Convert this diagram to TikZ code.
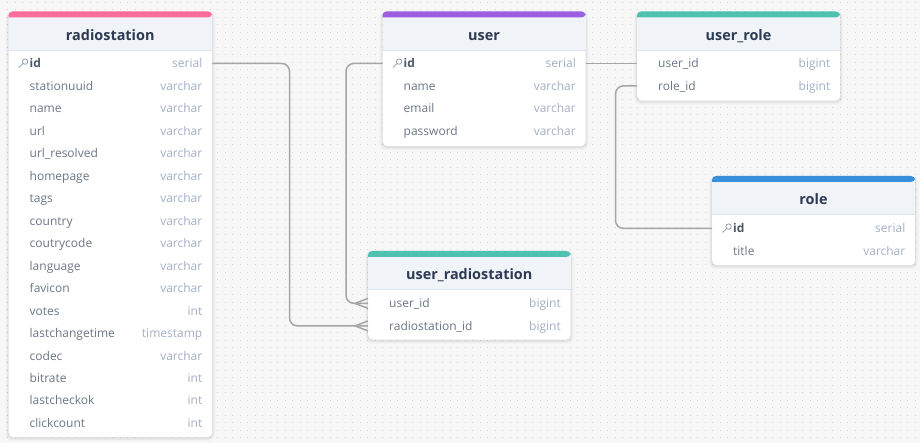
\documentclass[tikz,border=0pt]{standalone}
\usepackage{fontspec}
\setmainfont{Open Sans}
\definecolor{bgc}{HTML}{F7F7F7}
\definecolor{dotc}{HTML}{D6D6D6}
\definecolor{headc}{HTML}{F0F4F9}
\definecolor{headl}{HTML}{DDE7F1}
\definecolor{titlec}{HTML}{2D3A52}
\definecolor{fieldc}{HTML}{6C7686}
\definecolor{keyc}{HTML}{4A5568}
\definecolor{typec}{HTML}{A3AFC4}
\definecolor{linec}{HTML}{A6A6A6}
\definecolor{pinkc}{HTML}{FF6B9A}
\definecolor{purplec}{HTML}{9B5FE0}
\definecolor{tealc}{HTML}{4FC1B0}
\definecolor{bluec}{HTML}{3A8FDD}
\tikzset{
  x=1pt,y=-1pt,
  tablebody/.style={draw=none,fill=white,rounded corners=5pt,inner sep=0pt,anchor=north west},
  tabletitle/.style={font=\fontsize{14.4}{18}\selectfont\bfseries,text=titlec,inner sep=0pt,anchor=base},
  rowbox/.style={inner sep=0pt,minimum height=22.5pt,anchor=west},
  fieldname/.style={font=\fontsize{12}{15}\selectfont,text=fieldc,inner sep=0pt,anchor=base west},
  keyname/.style={font=\fontsize{12}{15}\selectfont\bfseries,text=keyc,inner sep=0pt,anchor=base west},
  fieldtype/.style={font=\fontsize{12}{15}\selectfont,text=typec,inner sep=0pt,anchor=base east},
  conn/.style={draw=linec,line width=1.5pt,rounded corners=8pt},
  crowf/.style={draw=linec,line width=1.5pt},
  keyicon/.style={draw=typec!70!fieldc,line width=.8pt},
}
% #1 name, #2 x, #3 top, #4 width, #5 height, #6 header bottom, #7 colour, #8 title
\newcommand{\dbtable}[8]{%
  \foreach \s/\o in {3/.02,2/.03,1/.04}{\fill[black,opacity=\o,rounded corners=6pt] (#2-\s,#3) rectangle (#2+#4+\s,#3+#5+1+\s);}
  \node[tablebody,minimum width=#4pt,minimum height=#5pt] (#1) at (#2,#3) {};
  \fill[headc] (#2,#3+5) rectangle (#2+#4,#3+#6);
  \draw[headl,line width=.8pt] (#2,#3+#6) -- (#2+#4,#3+#6);
  \fill[#7,rounded corners=4pt] (#2,#3+6) -- (#2,#3) -- (#2+#4,#3) -- (#2+#4,#3+6) [sharp corners] -- cycle;
  \node[tabletitle] (#1-title) at (#2+#4/2,#3+29) {#8};
}
% #1 name, #2 x, #3 centre y, #4 width, #5 field, #6 type
\newcommand{\dbrow}[6]{%
  \node[rowbox,minimum width=#4pt] (#1) at (#2,#3+.4) {};
  \node[fieldname] (#1-f) at (#2+21,#3+4.9) {#5};
  \node[fieldtype] (#1-t) at (#2+#4-9.5,#3+4.9) {#6};
}
\newcommand{\dbkeyrow}[6]{%
  \node[rowbox,minimum width=#4pt] (#1) at (#2,#3+.4) {};
  \node[keyname] (#1-f) at (#2+21,#3+4.9) {#5};
  \node[fieldtype] (#1-t) at (#2+#4-9.5,#3+4.9) {#6};
  \draw[keyicon] (#2+16.6,#3-1.4) circle (2.7pt);
  \draw[keyicon,line cap=round] (#2+14.7,#3+.5) -- (#2+10.6,#3+4.4);
}
\begin{document}
\begin{tikzpicture}
\useasboundingbox (0,0) rectangle (920,443);
\fill[bgc] (0,0) rectangle (920,443);
\foreach \i in {1,...,122}{\foreach \j in {0,...,58}{
  \fill[dotc] (7.5*\i-.5,2.5+7.5*\j-.5) rectangle +(1,1);
}}
% radiostation
\dbtable{radiostation}{8.5}{11.5}{203.5}{425.5}{38.5}{pinkc}{radiostation}
\dbkeyrow{rs-id}{8.5}{63}{203.5}{id}{serial}
\dbrow{rs-stationuuid}{8.5}{85.5}{203.5}{stationuuid}{varchar}
\dbrow{rs-name}{8.5}{108}{203.5}{name}{varchar}
\dbrow{rs-url}{8.5}{130.5}{203.5}{url}{varchar}
\dbrow{rs-urlr}{8.5}{153}{203.5}{url\_resolved}{varchar}
\dbrow{rs-homepage}{8.5}{175.5}{203.5}{homepage}{varchar}
\dbrow{rs-tags}{8.5}{198}{203.5}{tags}{varchar}
\dbrow{rs-country}{8.5}{220.5}{203.5}{country}{varchar}
\dbrow{rs-coutrycode}{8.5}{243}{203.5}{coutrycode}{varchar}
\dbrow{rs-language}{8.5}{265.5}{203.5}{language}{varchar}
\dbrow{rs-favicon}{8.5}{288}{203.5}{favicon}{varchar}
\dbrow{rs-votes}{8.5}{310.5}{203.5}{votes}{int}
\dbrow{rs-lastchangetime}{8.5}{333}{203.5}{lastchangetime}{timestamp}
\dbrow{rs-codec}{8.5}{355.5}{203.5}{codec}{varchar}
\dbrow{rs-bitrate}{8.5}{378}{203.5}{bitrate}{int}
\dbrow{rs-lastcheckok}{8.5}{400}{203.5}{lastcheckok}{int}
\dbrow{rs-clickcount}{8.5}{422.5}{203.5}{clickcount}{int}
% user
\dbtable{user}{382.5}{11.5}{203}{134.5}{38.5}{purplec}{user}
\dbkeyrow{u-id}{382.5}{63}{203}{id}{serial}
\dbrow{u-name}{382.5}{85.5}{203}{name}{varchar}
\dbrow{u-email}{382.5}{108}{203}{email}{varchar}
\dbrow{u-password}{382.5}{130.5}{203}{password}{varchar}
% user_role
\dbtable{userrole}{637}{11.5}{203}{89}{38.5}{tealc}{user\_role}
\dbrow{ur-user}{637}{63}{203}{user\_id}{bigint}
\dbrow{ur-role}{637}{85.5}{203}{role\_id}{bigint}
% role
\dbtable{role}{712}{176}{203}{89}{38.5}{bluec}{role}
\dbkeyrow{r-id}{712}{228}{203}{id}{serial}
\dbrow{r-title}{712}{250.5}{203}{title}{varchar}
% user_radiostation
\dbtable{userradio}{368}{251}{202.5}{88.5}{38.5}{tealc}{user\_radiostation}
\dbrow{urs-user}{368}{303}{202.5}{user\_id}{bigint}
\dbrow{urs-radio}{368}{325.5}{202.5}{radiostation\_id}{bigint}
% connectors
\draw[conn] (rs-id.east) -| (289.5,300) |- (urs-radio.west);
\draw[conn] (u-id.west) -| (346,200) |- (urs-user.west);
\draw[conn] (u-id.east) -- (ur-user.west);
\draw[conn] (ur-role.west) -| (615.5,150) |- (r-id.west);
\coordinate (c1) at ([xshift=-13pt]urs-user.west);
\coordinate (c2) at ([xshift=-13pt]urs-radio.west);
\draw[crowf] ([yshift=5pt]urs-user.west) -- (c1) -- ([yshift=-5pt]urs-user.west);
\draw[crowf] ([yshift=5pt]urs-radio.west) -- (c2) -- ([yshift=-5pt]urs-radio.west);
\end{tikzpicture}
\end{document}
